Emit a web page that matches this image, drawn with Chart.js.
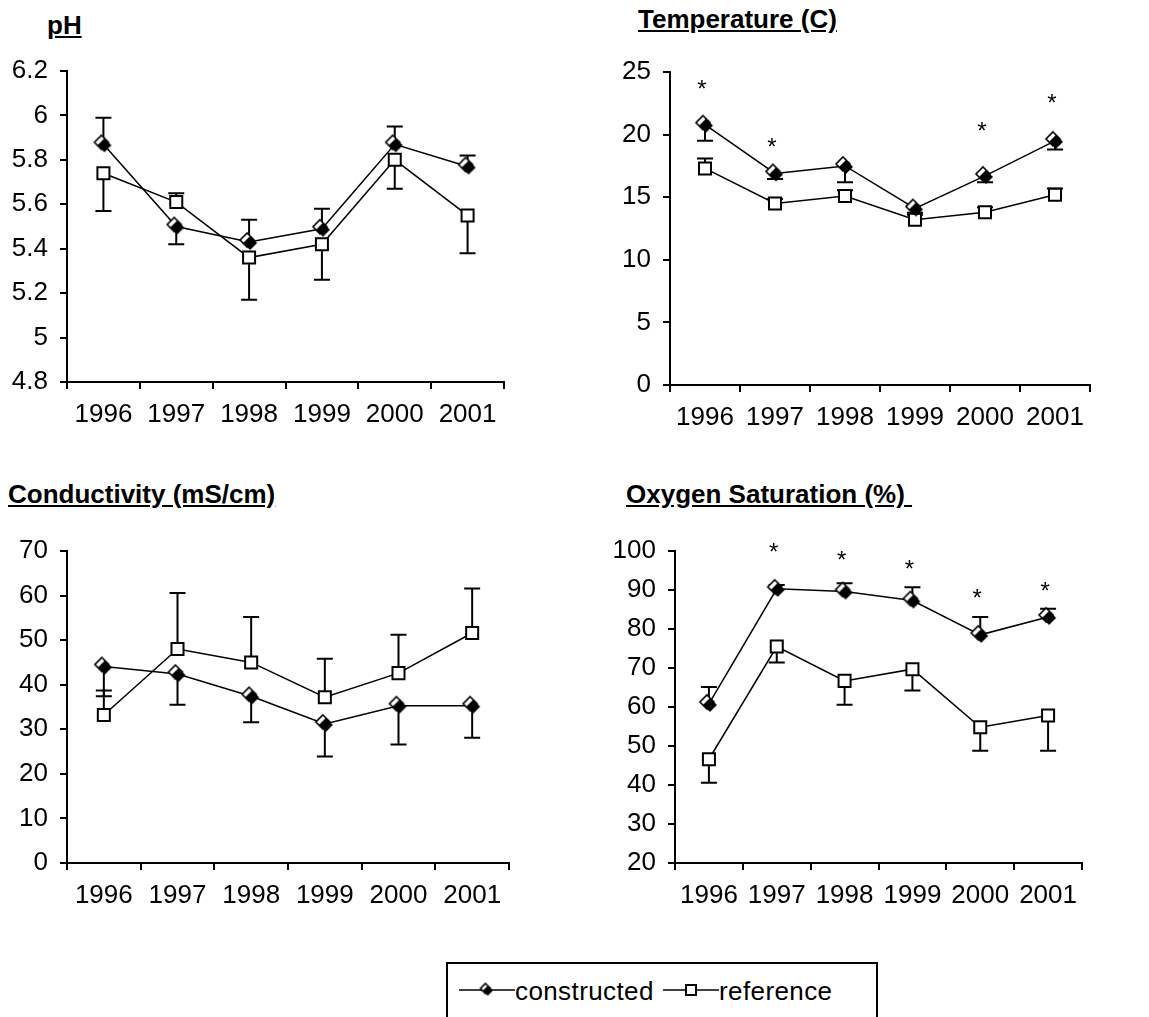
<!DOCTYPE html>
<html>
<head>
<meta charset="utf-8">
<script src="https://cdn.jsdelivr.net/npm/chart.js@4.4.1/dist/chart.umd.min.js"></script>
<style>
  html, body { margin: 0; padding: 0; background: #fff; width: 1149px; height: 1017px; overflow: hidden; }
  body { position: relative; font-family: Arial, "Liberation Sans", sans-serif; color: #000; }
  .title { position: absolute; font-weight: bold; font-size: 26px; line-height: 26px; text-decoration: underline; white-space: pre; }
  canvas.chart { position: absolute; }
  #legend { position: absolute; left: 446px; top: 962px; width: 428px; height: 80px; border: 2px solid #000; }
  #legend canvas { position: absolute; top: 14px; }
  #legend span { position: absolute; top: 12px; font-size: 26px; line-height: 30px; white-space: nowrap; letter-spacing: 0.4px; }
</style>
</head>
<body>
<div class="title" style="left:47px; top:12px;">pH</div>
<div class="title" style="left:638px; top:6px;">Temperature (C)</div>
<div class="title" style="left:8px; top:481px;">Conductivity (mS/cm)</div>
<div class="title" style="left:626px; top:481px;">Oxygen Saturation (%) </div>

<canvas id="phChart" class="chart"></canvas>
<canvas id="tempChart" class="chart"></canvas>
<canvas id="condChart" class="chart"></canvas>
<canvas id="oxyChart" class="chart"></canvas>

<div id="legend">
  <canvas id="legCons" width="56" height="24" style="left:11px;"></canvas>
  <span style="left:67px;">constructed</span>
  <canvas id="legRef" width="56" height="24" style="left:215px;"></canvas>
  <span style="left:271px;">reference</span>
</div>

<script>
// categories
const years = ['1996', '1997', '1998', '1999', '2000', '2001'];

// pH
const phConstructed = [5.87, 5.50, 5.43, 5.49, 5.87, 5.77];
const phConstructedErr = [0.12, -0.08, 0.10, 0.09, 0.08, 0.05];
const phReference = [5.74, 5.61, 5.36, 5.42, 5.80, 5.55];
const phReferenceErr = [-0.17, 0.04, -0.19, -0.16, -0.13, -0.17];

// Temperature (C)
const tempConstructed = [20.8, 16.9, 17.5, 14.1, 16.7, 19.5];
const tempConstructedErr = [-1.3, -0.45, -1.3, -0.35, -0.5, -0.7];
const tempReference = [17.3, 14.5, 15.1, 13.2, 13.8, 15.2];
const tempReferenceErr = [0.8, 0.35, 0.45, 0.4, 0.4, 0.5];
const tempStars = [23.9, 19.3, null, null, 20.6, 22.8];

// Conductivity (mS/cm)
const condConstructed = [44.1, 42.4, 37.4, 31.2, 35.3, 35.3];
const condConstructedErr = [-6.7, -6.9, -5.8, -7.3, -8.7, -7.2];
const condReference = [33.2, 48.0, 45.0, 37.2, 42.6, 51.6];
const condReferenceErr = [5.5, 12.6, 10.2, 8.6, 8.6, 10.0];

// Oxygen Saturation (%)
const oxyConstructed = [60.8, 90.3, 89.6, 87.3, 78.5, 83.1];
const oxyConstructedErr = [4.3, 1.0, 2.1, 3.4, 4.6, 2.1];
const oxyReference = [46.6, 75.5, 66.7, 69.7, 54.8, 57.8];
const oxyReferenceErr = [-6.0, -4.1, -6.1, -5.5, -6.0, -9.0];
const oxyStars = [null, 100.7, 98.7, 96.2, 89.0, 90.6];

Chart.defaults.font.family = 'Arial, "Liberation Sans", sans-serif';
Chart.defaults.color = '#000';

// diamond marker: outlined diamond behind a filled one, like the old Excel look
function makeDiamond(r, off) {
    const c = document.createElement('canvas');
    const s = Math.ceil(r * 2 + off * 2 + 4);
    c.width = s; c.height = s;
    const g = c.getContext('2d');
    const m = s / 2;
    function diamond(cx, cy) {
        g.beginPath();
        g.moveTo(cx, cy - r); g.lineTo(cx + r, cy); g.lineTo(cx, cy + r); g.lineTo(cx - r, cy);
        g.closePath();
    }
    diamond(m - off, m - off);
    g.fillStyle = '#fff'; g.fill();
    g.lineWidth = 1.6; g.strokeStyle = '#000'; g.stroke();
    diamond(m + off / 2, m + off / 2);
    g.fillStyle = '#000'; g.fill();
    return c;
}
const diamondImg = makeDiamond(7, 2);

// one-sided error bars, sign tells the direction
const errorBars = {
    id: 'errorBars',
    beforeDatasetsDraw(chart) {
        const ctx = chart.ctx, ys = chart.scales.y;
        ctx.save();
        ctx.strokeStyle = '#000';
        ctx.lineWidth = 2;
        chart.data.datasets.forEach((ds, i) => {
            chart.getDatasetMeta(i).data.forEach((pt, j) => {
                const e = ds.errors[j];
                if (!e) return;
                const y1 = ys.getPixelForValue(ds.data[j] + e);
                ctx.beginPath();
                ctx.moveTo(pt.x, pt.y);
                ctx.lineTo(pt.x, y1);
                ctx.moveTo(pt.x - 8, y1);
                ctx.lineTo(pt.x + 8, y1);
                ctx.stroke();
            });
        });
        ctx.restore();
    }
};

function starMarks(values) {
    return {
        id: 'stars',
        afterDraw(chart) {
            if (!values) return;
            const ctx = chart.ctx, xs = chart.scales.x, ys = chart.scales.y;
            ctx.save();
            ctx.font = '24px Arial, "Liberation Sans", sans-serif';
            ctx.textAlign = 'center';
            ctx.textBaseline = 'middle';
            ctx.fillStyle = '#000';
            values.forEach((v, i) => {
                if (v == null) return;
                ctx.fillText('*', xs.getPixelForValue(i) - 3, ys.getPixelForValue(v) + 5);
            });
            ctx.restore();
        }
    };
}

// plot area boxes in page pixels
function makeChart(id, area, canvasLeft, cons, consErr, ref, refErr, yMin, yMax, step, stars) {
    const padTop = 45, padRight = 30, axisH = 50;
    const yw = area.left - canvasLeft;
    const el = document.getElementById(id);
    const w = area.right + padRight - canvasLeft;
    const h = area.bottom - area.top + padTop + axisH;
    el.style.left = canvasLeft + 'px';
    el.style.top = (area.top - padTop) + 'px';
    el.style.width = w + 'px';
    el.style.height = h + 'px';
    el.width = w; el.height = h;

    new Chart(el.getContext('2d'), {
        type: 'line',
        data: {
            labels: years,
            datasets: [
                {
                    label: 'constructed',
                    data: cons,
                    errors: consErr,
                    borderColor: '#000',
                    borderWidth: 1.5,
                    pointStyle: diamondImg,
                    pointRadius: 8,
                    tension: 0,
                    clip: false
                },
                {
                    label: 'reference',
                    data: ref,
                    errors: refErr,
                    borderColor: '#000',
                    backgroundColor: '#fff',
                    borderWidth: 1.5,
                    pointStyle: 'rect',
                    pointRadius: 8.5,
                    pointBorderWidth: 2,
                    pointBackgroundColor: '#fff',
                    pointBorderColor: '#000',
                    tension: 0,
                    clip: false
                }
            ]
        },
        options: {
            responsive: false,
            animation: false,
            events: [],
            layout: { padding: { top: padTop, right: padRight, left: 0, bottom: 0 } },
            plugins: { legend: { display: false }, tooltip: { enabled: false } },
            scales: {
                x: {
                    type: 'category',
                    offset: true,
                    grid: { offset: true, drawOnChartArea: false, drawTicks: true, tickLength: 7, color: '#000', lineWidth: 2 },
                    border: { color: '#000', width: 2 },
                    ticks: { font: { size: 26 }, padding: 10, maxRotation: 0, autoSkip: false },
                    afterFit(s) { s.height = axisH; }
                },
                y: {
                    min: yMin,
                    max: yMax,
                    grid: { drawOnChartArea: false, drawTicks: true, tickLength: 7, color: '#000', lineWidth: 2 },
                    border: { color: '#000', width: 2 },
                    ticks: {
                        stepSize: step,
                        font: { size: 26 },
                        padding: 12,
                        callback: v => String(Number(v.toFixed(1)))
                    },
                    afterFit(s) { s.width = yw; }
                }
            }
        },
        plugins: [errorBars, starMarks(stars)]
    });
}

makeChart('phChart', { left: 67, top: 71, right: 504, bottom: 382 }, 0,
    phConstructed, phConstructedErr, phReference, phReferenceErr, 4.8, 6.2, 0.2, null);
makeChart('tempChart', { left: 670, top: 72, right: 1090, bottom: 385 }, 570,
    tempConstructed, tempConstructedErr, tempReference, tempReferenceErr, 0, 25, 5, tempStars);
makeChart('condChart', { left: 67, top: 551, right: 509, bottom: 863 }, 0,
    condConstructed, condConstructedErr, condReference, condReferenceErr, 0, 70, 10, null);
makeChart('oxyChart', { left: 675, top: 551, right: 1082, bottom: 863 }, 570,
    oxyConstructed, oxyConstructedErr, oxyReference, oxyReferenceErr, 20, 100, 10, oxyStars);

// legend samples
function legendSample(id, drawMarker) {
    const g = document.getElementById(id).getContext('2d');
    g.strokeStyle = '#000';
    g.lineWidth = 1.5;
    g.beginPath(); g.moveTo(0, 12); g.lineTo(56, 12); g.stroke();
    drawMarker(g);
}
legendSample('legCons', g => {
    const d = makeDiamond(5, 1.5);
    g.drawImage(d, 28 - d.width / 2, 12 - d.height / 2);
});
legendSample('legRef', g => {
    g.fillStyle = '#fff';
    g.fillRect(23, 7, 10, 10);
    g.lineWidth = 2;
    g.strokeRect(23, 7, 10, 10);
});
</script>
</body>
</html>
